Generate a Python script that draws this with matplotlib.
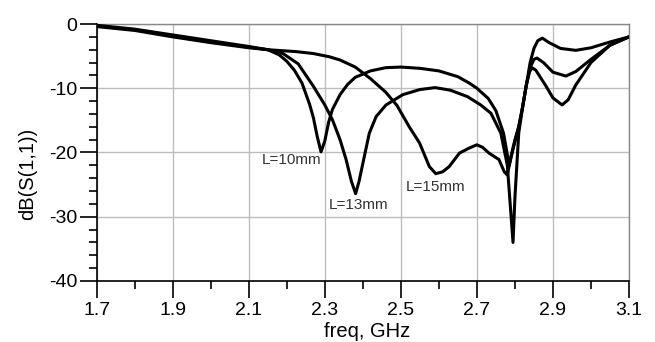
import matplotlib
matplotlib.use("Agg")
import matplotlib.pyplot as plt
import numpy as np

plt.rcParams['font.family'] = ['Liberation Sans', 'DejaVu Sans']

# L = 10 mm
f10 = [1.70, 1.80, 1.90, 2.00, 2.10, 2.15, 2.18, 2.20, 2.22, 2.24, 2.26, 2.27, 2.28, 2.29,
       2.30, 2.31, 2.32, 2.34, 2.36, 2.38, 2.42, 2.46, 2.50, 2.55, 2.60, 2.65, 2.68, 2.70,
       2.73, 2.75, 2.77, 2.785, 2.795, 2.81, 2.82, 2.83, 2.84, 2.85, 2.86, 2.872, 2.89, 2.92,
       2.96, 3.00, 3.05, 3.10]
s10 = [-0.2, -0.8, -1.7, -2.6, -3.5, -4.0, -4.8, -5.8, -7.2, -9.2, -12.5, -14.6, -17.5, -19.9,
       -18.2, -15.3, -13.3, -11.0, -9.4, -8.3, -7.3, -6.8, -6.7, -6.9, -7.3, -8.2, -9.2, -10.0,
       -11.6, -13.5, -17.0, -22.0, -19.5, -16.0, -13.0, -9.5, -6.0, -3.8, -2.6, -2.2, -2.9, -3.8,
       -4.1, -3.7, -2.8, -2.0]

# L = 13 mm
f13 = [1.70, 1.80, 1.90, 2.00, 2.10, 2.15, 2.19, 2.23, 2.27, 2.30, 2.32, 2.34, 2.356, 2.37,
       2.381, 2.39, 2.40, 2.417, 2.435, 2.461, 2.505, 2.55, 2.59, 2.63, 2.675, 2.71,
       2.737, 2.763, 2.78, 2.795, 2.80, 2.81, 2.82, 2.83, 2.84, 2.85, 2.858, 2.875, 2.90,
       2.934, 2.96, 3.00, 3.05, 3.10]
s13 = [-0.3, -0.9, -1.9, -2.8, -3.6, -4.0, -4.6, -6.2, -9.7, -12.6, -14.9, -18.0, -21.1, -24.5,
       -26.4, -24.5, -21.7, -17.0, -14.4, -12.6, -11.0, -10.2, -9.9, -10.3, -11.3, -12.6,
       -13.9, -17.0, -22.0, -34.0, -27.0, -17.0, -13.0, -9.5, -6.8, -5.5, -5.3, -6.0, -7.5,
       -8.1, -7.4, -5.5, -3.3, -2.0]

# L = 15 mm
f15 = [1.70, 1.80, 1.90, 2.00, 2.10, 2.15, 2.225, 2.27, 2.312, 2.34, 2.38, 2.42, 2.46, 2.49,
       2.522, 2.549, 2.575, 2.592, 2.61, 2.627, 2.654, 2.68, 2.70, 2.715, 2.732, 2.758, 2.772,
       2.78, 2.79, 2.80, 2.81, 2.82, 2.83, 2.838, 2.845, 2.855, 2.88, 2.90, 2.924, 2.94, 2.96,
       3.00, 3.05, 3.10]
s15 = [-0.4, -1.0, -2.0, -2.9, -3.7, -4.0, -4.3, -4.6, -5.1, -5.6, -6.7, -8.5, -10.6, -12.7,
       -16.0, -18.5, -22.2, -23.3, -23.0, -22.2, -20.1, -19.3, -18.8, -19.2, -20.1, -21.1, -23.0,
       -23.5, -20.5, -18.0, -16.0, -13.0, -9.5, -7.5, -6.8, -7.2, -9.5, -11.5, -12.6, -11.8, -9.5,
       -6.0, -3.3, -2.0]

labels = ["L=10mm", "L=13mm", "L=15mm"]
label_pos = [(2.213, -21.2), (2.39, -28.1), (2.592, -25.3)]

xticks = [1.7, 1.9, 2.1, 2.3, 2.5, 2.7, 2.9, 3.1]
yticks = [-40, -30, -20, -10, 0]

fig = plt.figure(figsize=(6.55, 3.42), dpi=100)
ax = fig.add_axes([0.1476, 0.1784, 0.8127, 0.7514])

for f, s in [(f10, s10), (f13, s13), (f15, s15)]:
    ax.plot(f, s, color='black', lw=2.2, solid_joinstyle='round', solid_capstyle='round', zorder=3)

for lab, (x, y) in zip(labels, label_pos):
    ax.text(x, y, lab, fontsize=11, color='#333333', ha='center', va='center', zorder=4)

ax.set_xlim(1.7, 3.1)
ax.set_ylim(-40, 0)
ax.set_xticks(xticks)
ax.set_xticklabels([f"{t:.1f}" for t in xticks])
ax.set_xticks(np.arange(1.8, 3.1, 0.2), minor=True)
ax.set_yticks(yticks)
ax.set_yticklabels([str(t) for t in yticks])
ax.set_yticks([t for t in range(-38, 0, 2) if t % 10 != 0], minor=True)

ax.grid(True, which='major', color='#bdbdbd', lw=1.0, zorder=0)
ax.tick_params(which='major', direction='out', length=12, width=1.2, labelsize=14)
ax.tick_params(axis='x', which='major', pad=3)
ax.tick_params(axis='y', which='major', pad=2)
ax.tick_params(which='minor', direction='out', length=5.5, width=1.2)
for side in ['top', 'right']:
    ax.spines[side].set_color('#888888')
    ax.spines[side].set_linewidth(1.0)
for side in ['left', 'bottom']:
    ax.spines[side].set_color('black')
    ax.spines[side].set_linewidth(1.2)

ax.set_xlabel("freq, GHz", fontsize=14.5)
ax.xaxis.set_label_coords(0.508, -0.16)
ax.set_ylabel("dB(S(1,1))", fontsize=14.5)
ax.yaxis.set_label_coords(-0.112, 0.416)

fig.savefig("out.png", dpi=100)
